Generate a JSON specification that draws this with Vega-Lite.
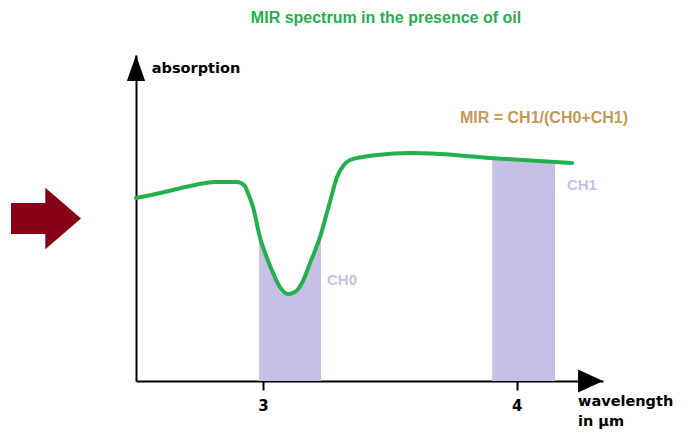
{
  "$schema": "https://vega.github.io/schema/vega-lite/v6.json",
  "width": 467,
  "height": 326,
  "autosize": {"type": "none"},
  "padding": {"left": 136, "top": 55, "right": 88, "bottom": 54},
  "background": "white",
  "config": {"view": {"stroke": null}},
  "datasets": {
    "curve": [
      {"wl": 2.500, "abs": 183}, {"wl": 2.595, "abs": 188}, {"wl": 2.713, "abs": 195},
      {"wl": 2.811, "abs": 199}, {"wl": 2.898, "abs": 199}, {"wl": 2.929, "abs": 195},
      {"wl": 2.941, "abs": 188}, {"wl": 2.961, "abs": 174}, {"wl": 2.989, "abs": 143},
      {"wl": 3.016, "abs": 123}, {"wl": 3.040, "abs": 108}, {"wl": 3.067, "abs": 94},
      {"wl": 3.099, "abs": 87}, {"wl": 3.126, "abs": 89}, {"wl": 3.154, "abs": 98},
      {"wl": 3.186, "abs": 118}, {"wl": 3.225, "abs": 144}, {"wl": 3.264, "abs": 179},
      {"wl": 3.292, "abs": 204}, {"wl": 3.316, "abs": 215}, {"wl": 3.343, "abs": 221},
      {"wl": 3.394, "abs": 224}, {"wl": 3.450, "abs": 226}, {"wl": 3.580, "abs": 228},
      {"wl": 3.698, "abs": 227}, {"wl": 3.895, "abs": 223}, {"wl": 4.025, "abs": 221},
      {"wl": 4.218, "abs": 218}
    ],
    "bands": [
      {"band": "CH0", "wl": 2.985, "abs": 142}, {"band": "CH0", "wl": 3.016, "abs": 123},
      {"band": "CH0", "wl": 3.040, "abs": 108}, {"band": "CH0", "wl": 3.067, "abs": 94},
      {"band": "CH0", "wl": 3.099, "abs": 87}, {"band": "CH0", "wl": 3.126, "abs": 89},
      {"band": "CH0", "wl": 3.154, "abs": 98}, {"band": "CH0", "wl": 3.186, "abs": 118},
      {"band": "CH0", "wl": 3.229, "abs": 147},
      {"band": "CH1", "wl": 3.903, "abs": 223}, {"band": "CH1", "wl": 4.025, "abs": 221},
      {"band": "CH1", "wl": 4.151, "abs": 219}
    ]
  },
  "encoding": {
    "x": {"field": "wl", "type": "quantitative", "scale": {"domain": [2.5, 4.34], "nice": false, "zero": false}},
    "y": {"field": "abs", "type": "quantitative", "scale": {"domain": [0, 326], "nice": false, "zero": false}}
  },
  "layer": [
    {
      "data": {"name": "bands"},
      "mark": {"type": "area", "color": "#c8bfe7", "interpolate": "monotone", "opacity": 1},
      "encoding": {
        "detail": {"field": "band"},
        "x": {"field": "wl", "type": "quantitative", "axis": {"title": null, "values": [3, 4], "tickSize": 9, "tickWidth": 2, "tickColor": "black", "domainColor": "black", "domainWidth": 2, "grid": false, "labelFont": "DejaVu Sans", "labelFontWeight": "bold", "labelFontSize": 15, "labelColor": "black", "labelBaseline": "alphabetic", "labelPadding": 20, "format": "d"}},
        "y": {"field": "abs", "type": "quantitative", "stack": null, "axis": {"title": null, "ticks": false, "labels": false, "grid": false, "domainColor": "black", "domainWidth": 2}}
      }
    },
    {
      "data": {"name": "curve"},
      "mark": {"type": "line", "color": "#22b14c", "strokeWidth": 4, "interpolate": "monotone", "strokeCap": "round"},
      "encoding": {}
    },
    {
      "data": {"values": [{"wl": 2.5, "abs": 313}]},
      "mark": {"type": "point", "shape": "M0,-1L0.7,1L-0.7,1Z", "size": 676, "filled": true, "color": "black", "opacity": 1, "strokeWidth": 0},
      "encoding": {}
    },
    {
      "data": {"values": [{"wl": 4.291, "abs": 0}]},
      "mark": {"type": "point", "shape": "M-1,-0.92L1,0L-1,0.92Z", "size": 625, "filled": true, "color": "black", "opacity": 1, "strokeWidth": 0},
      "encoding": {}
    },
    {
      "data": {"values": [{"wl": 2.1454, "abs": 162.5}]},
      "mark": {"type": "point", "shape": "M-1,-0.44L-0.02,-0.44L-0.02,-0.88L1,0L-0.02,0.88L-0.02,0.44L-1,0.44Z", "size": 4900, "filled": true, "color": "#880015", "opacity": 1, "strokeWidth": 0},
      "encoding": {}
    },
    {
      "data": {"values": [{"wl": 3.485, "abs": 357.7, "label": "MIR spectrum in the presence of oil"}]},
      "mark": {"type": "text", "font": "Liberation Sans", "fontWeight": "bold", "fontSize": 16, "color": "#22b14c", "align": "center", "baseline": "alphabetic"},
      "encoding": {"text": {"field": "label"}}
    },
    {
      "data": {"values": [{"wl": 3.7766, "abs": 257.7, "label": "MIR = CH1/(CH0+CH1)"}]},
      "mark": {"type": "text", "font": "Liberation Sans", "fontWeight": "bold", "fontSize": 16, "color": "#c49a55", "align": "left", "baseline": "alphabetic"},
      "encoding": {"text": {"field": "label"}}
    },
    {
      "data": {"values": [{"wl": 4.198, "abs": 190.7, "label": "CH1"}, {"wl": 3.2526, "abs": 96, "label": "CH0"}]},
      "mark": {"type": "text", "font": "Liberation Sans", "fontWeight": "bold", "fontSize": 15, "color": "#c8bfe7", "align": "left", "baseline": "alphabetic"},
      "encoding": {"text": {"field": "label"}}
    },
    {
      "data": {"values": [{"wl": 2.562, "abs": 307.7, "label": "absorption"}, {"wl": 4.2415, "abs": -24.7, "label": "wavelength"}, {"wl": 4.2415, "abs": -44.7, "label": "in µm"}]},
      "mark": {"type": "text", "font": "DejaVu Sans", "fontWeight": "bold", "fontSize": 14.5, "color": "black", "align": "left", "baseline": "alphabetic"},
      "encoding": {"text": {"field": "label"}}
    }
  ]
}
